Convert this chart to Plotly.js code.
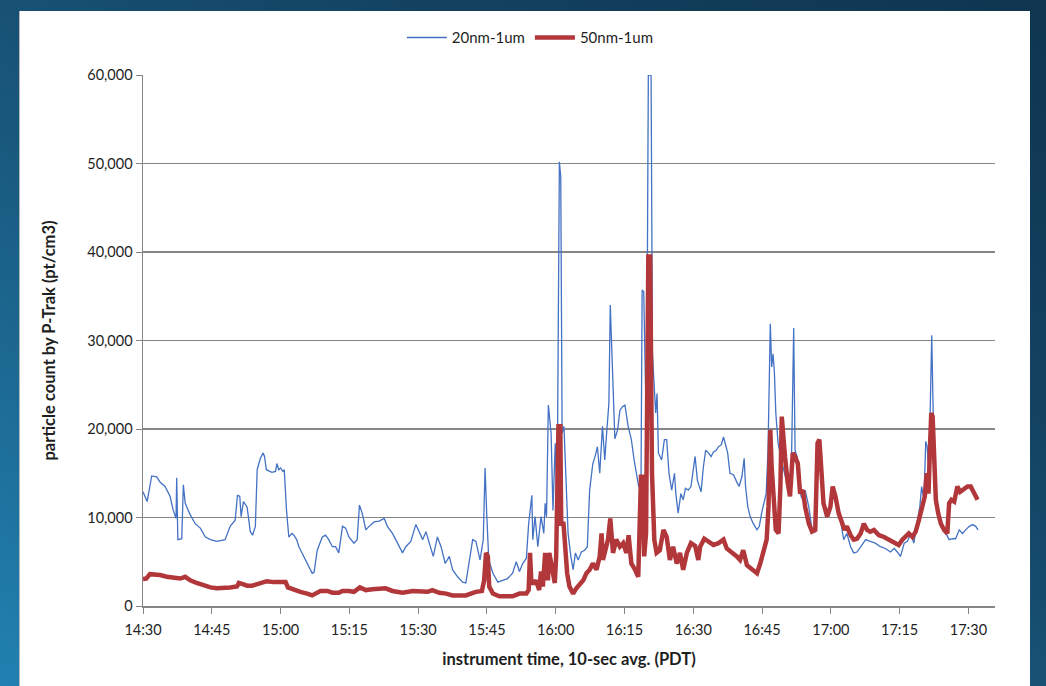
<!DOCTYPE html>
<html><head><meta charset="utf-8">
<script src="https://cdn.plot.ly/plotly-3.0.1.min.js"></script>
<style>
html,body{margin:0;padding:0;width:1046px;height:686px;overflow:hidden;
background:linear-gradient(to top right,#2181b1 0%,#19597e 40%,#134260 70%,#0f3550 100%);}
#panel{position:absolute;left:19px;top:11px;width:1010px;height:690px;background:#fff;border-left:1px solid #b8b8b8;}
#chart{position:absolute;left:0;top:0;width:1046px;height:686px;}
</style></head><body><div id="panel"></div><div id="chart"></div>
<script>
// elapsed minutes after 14:30 (PDT) and particle counts (pt/cm3)
const t20 = [0.0,0.9,1.9,3.0,3.7,4.8,5.9,6.6,7.2,7.35,7.6,8.46,8.8,9.2,10.3,11.4,12.5,13.6,14.7,16.1,17.9,19.0,20.1,20.6,21.1,21.4,21.9,22.7,23.4,23.9,24.5,24.9,25.6,26.2,26.5,26.9,28.1,28.9,29.2,29.6,30.0,30.5,30.8,31.3,31.8,32.5,32.9,33.5,34.0,34.7,35.4,36.2,36.9,37.3,38.0,39.1,39.8,40.5,41.3,42.0,42.7,43.5,44.2,44.9,46.0,46.7,47.2,47.8,48.6,49.3,50.4,51.5,52.6,53.3,54.4,55.5,56.6,57.3,58.4,59.5,60.2,61.0,61.7,62.4,63.3,64.2,65.0,65.9,66.8,67.5,68.6,69.7,70.4,71.2,71.9,72.6,73.5,74.2,74.6,74.95,75.4,76.3,77.4,78.4,79.5,80.6,81.4,82.1,82.8,83.6,84.1,84.8,85.0,85.5,86.1,86.8,87.4,87.7,88.0,88.4,89.0,89.4,89.9,90.3,90.8,91.1,91.4,91.8,92.2,92.7,93.3,93.8,94.3,94.9,95.6,96.3,96.9,97.4,98.1,98.6,99.1,99.6,100.2,100.7,101.1,101.4,101.6,101.9,102.3,102.9,103.5,104.0,104.5,105.1,105.8,106.5,107.1,107.6,108.1,108.6,108.85,109.2,109.5,109.8,110.2,110.8,111.1,111.5,111.8,112.1,112.4,113.1,113.7,114.2,114.7,115.3,115.9,116.2,116.7,117.3,117.8,118.3,118.9,119.5,120.4,120.9,121.7,122.2,122.7,123.3,123.9,124.4,125.0,125.5,126.1,126.6,126.9,127.5,128.0,128.8,129.5,130.0,130.6,131.1,131.4,131.9,132.4,133.1,133.9,134.4,134.9,135.5,135.9,136.3,136.6,136.8,137.1,137.4,137.7,138.0,138.5,139.2,140.1,140.8,141.4,141.9,142.2,142.6,143.1,143.5,143.9,144.4,145.2,145.9,146.6,147.1,147.5,148.0,148.4,149.5,150.6,151.4,152.1,152.8,153.5,154.3,155.0,155.7,156.5,157.6,158.6,159.7,160.8,161.9,163.0,163.8,164.5,165.2,166.0,166.7,167.4,168.1,168.9,169.4,169.8,170.3,170.7,171.0,171.4,171.8,172.0,172.3,172.6,173.1,173.6,174.3,175.1,175.8,176.5,177.2,178.0,178.7,179.4,180.2,180.9,181.6,182.1];
const v20 = [12900,11800,14700,14600,14000,13500,12400,10800,9900,14500,7500,7600,13700,11600,10300,9300,8800,7800,7500,7300,7500,9000,9700,12500,12400,10100,11800,11200,8400,8000,9000,15400,16700,17300,16900,15400,15100,15200,16100,15400,15600,15200,15400,10800,7800,8200,8000,7500,6700,6000,5200,4400,3700,3800,6300,7800,8000,7500,6700,6700,6000,9000,8800,7800,7100,7500,11400,10500,8600,9000,9500,9600,9900,9000,8200,7100,6000,6700,7300,9200,8400,7500,8400,7100,5600,7800,6700,4800,5600,4100,3300,2700,2600,5200,7500,7300,5200,7500,15600,10500,5200,3700,2700,2900,3100,3700,5000,3900,4800,5400,9300,12500,7500,10100,6700,10100,8200,11600,10100,22700,19500,10800,18400,11200,50200,48500,19500,20300,15000,8200,5600,4100,6000,5200,6100,6300,6700,13100,16100,16900,18000,15000,20300,16500,19500,21800,22900,34000,28200,18900,19900,22100,22500,22700,20300,18800,16500,15000,13500,13500,35700,35500,26300,18800,60000,60000,28500,24000,21800,24000,17300,16500,18800,18800,15000,13100,15000,12700,10500,12700,12000,13300,13100,13500,16900,14200,12900,15700,17600,17300,16900,17400,17600,18000,18200,19100,18400,17300,15000,14800,14000,13500,14600,16700,13500,11200,10100,9300,8600,9000,10500,12000,12700,17600,25200,31900,27000,28500,26300,21800,18400,16500,14600,13500,15700,31400,17600,16900,14600,12400,12000,13100,11200,8600,8400,18000,18500,14000,11600,10100,13500,11200,9700,7500,8200,6700,6000,6100,6700,7500,7300,7100,6700,6500,6100,6500,6100,5600,7100,7300,8200,7100,9700,11200,13500,12000,18600,18000,15000,23300,30600,22500,15700,11200,9700,9000,8200,7500,7600,7600,8600,8200,8600,9000,9200,9000,8600];

const t50 = [0.0,0.7,1.5,2.6,3.7,5.2,6.6,8.1,9.2,10.3,11.7,13.2,14.7,16.1,17.6,19.0,20.5,20.9,21.6,22.7,23.8,24.9,26.0,27.0,28.5,30.0,31.1,31.6,32.9,34.3,35.8,36.9,37.6,38.7,40.2,41.3,42.7,43.5,44.9,46.0,47.3,48.6,50.0,51.5,52.9,54.4,56.6,58.8,61.0,62.1,63.1,64.6,66.1,67.5,69.0,70.4,71.5,72.6,73.9,74.4,74.8,75.2,75.5,76.3,77.7,79.2,80.6,82.1,83.6,84.1,84.4,84.7,85.3,85.7,86.4,86.8,87.2,87.7,88.3,88.6,89.2,89.8,90.1,90.6,91.0,91.2,91.7,92.1,92.5,93.0,93.8,94.5,95.2,96.0,96.7,97.4,98.1,98.9,99.6,100.0,100.3,100.8,101.4,101.9,102.5,103.2,104.0,104.7,105.4,105.9,106.5,107.3,108.0,108.6,108.9,109.3,109.7,110.2,110.6,111.0,111.5,112.0,112.7,113.5,114.2,114.9,115.6,116.4,117.1,117.8,118.6,119.5,120.4,121.1,121.5,122.4,123.3,124.4,125.5,126.6,127.3,128.4,129.5,130.2,130.9,131.7,132.8,133.9,134.6,135.3,136.0,136.4,136.8,137.1,137.5,138.0,138.6,139.0,139.3,139.7,140.0,140.6,141.1,141.7,142.2,142.8,143.3,143.9,144.4,145.2,145.9,146.6,147.1,147.5,147.9,148.4,149.2,149.9,150.4,151.0,151.7,152.5,153.0,153.5,154.3,155.0,155.7,156.5,157.2,157.9,158.6,159.4,160.5,161.6,162.7,163.7,164.8,165.6,166.3,167.0,167.8,168.5,169.2,169.9,170.5,170.9,171.3,171.6,171.9,172.2,172.5,172.9,173.4,174.0,174.7,175.4,175.8,176.3,176.9,177.6,178.2,178.9,179.8,180.5,181.3,182.0];
const v50 = [3050,3100,3600,3600,3500,3300,3200,3100,3300,2900,2600,2300,2100,2000,2000,2100,2200,2600,2500,2300,2300,2500,2700,2800,2700,2700,2700,2100,1800,1600,1400,1200,1400,1700,1700,1500,1500,1700,1700,1600,2100,1800,1900,1900,2000,1700,1500,1700,1700,1600,1800,1500,1400,1200,1200,1200,1400,1600,1700,2900,6000,5600,2200,1400,1100,1100,1100,1400,1400,1800,6000,2600,2600,2900,1800,3900,2200,6000,2900,6000,4100,2600,5600,20300,20300,9300,9300,6700,3700,2200,1400,2000,2400,2900,3700,4100,4800,4100,5600,8200,5200,6300,7500,9900,6000,7500,6700,7100,6000,8000,4800,4100,3300,14600,14600,5600,8200,39500,39500,15000,7500,6000,6300,8600,7800,5200,6700,4800,6000,4100,6000,7100,6800,5200,6700,7600,7300,6900,7100,7500,6500,6100,5600,5200,6300,4600,4100,3700,4800,6000,7500,11200,19900,15700,12000,8600,8200,13500,21400,19500,16900,13900,12400,17300,16900,16100,12700,13100,11200,9300,8400,8600,18400,18800,14600,11600,10100,11200,13500,12400,10500,9500,8600,9000,8000,7500,7600,8200,9300,8600,8400,8600,8000,7800,7500,7100,6900,7500,7800,8200,7800,8400,9700,11200,12400,15000,12700,17600,21800,21400,15700,12000,10500,9300,8600,8200,11600,12000,11800,13500,12900,13100,13500,13500,12700,12000];

const seriesNames = ['20nm-1um', '50nm-1um'];
const xTitle = 'instrument time, 10-sec avg. (PDT)';
const yTitle = 'particle count by P-Trak (pt/cm3)';

const BASE = Date.UTC(2013, 6, 1, 14, 30, 0);
function toTime(m) {
  return new Date(BASE + Math.round(m * 60000)).toISOString().replace('T', ' ').slice(0, 19);
}

const font = 'Lato, "Open Sans", sans-serif';
const gray = '#868686';
const ink = '#1e1e1e';

const traces = [
  {x: t20.map(toTime), y: v20, name: seriesNames[0], type: 'scatter', mode: 'lines',
   line: {color: '#4472C4', width: 1.3}},
  {x: t50.map(toTime), y: v50, name: seriesNames[1], type: 'scatter', mode: 'lines',
   line: {color: '#B2373A', width: 4.5}}
];

const layout = {
  width: 1046, height: 686,
  paper_bgcolor: 'rgba(0,0,0,0)', plot_bgcolor: 'rgba(0,0,0,0)',
  margin: {l: 143, r: 51, t: 75, b: 80},
  font: {family: font, size: 14, color: ink},
  showlegend: true,
  legend: {orientation: 'h', xref: 'container', yref: 'container', x: 0.507, xanchor: 'center',
           y: 0.945, yanchor: 'middle', font: {size: 15, color: ink}, bgcolor: 'rgba(0,0,0,0)',
           itemwidth: 40},
  xaxis: {
    type: 'date', range: [toTime(0), toTime(185.8)],
    tick0: toTime(0), dtick: 900000, tickformat: '%H:%M',
    ticks: 'outside', ticklen: 6, tickcolor: gray, tickwidth: 1, ticklabelstandoff: 4,
    showline: true, linecolor: gray, linewidth: 1.5, showgrid: false, zeroline: false,
    tickfont: {size: 14.5, color: ink},
    title: {text: '<b>' + xTitle + '</b>', font: {size: 16.5, color: ink}, standoff: 16}
  },
  yaxis: {
    range: [0, 60000], dtick: 10000, tickformat: ',',
    ticks: 'outside', ticklen: 6, tickcolor: gray, tickwidth: 1,
    showline: true, linecolor: gray, linewidth: 1.5,
    showgrid: true, gridcolor: gray, gridwidth: 1.3, zeroline: false,
    tickfont: {size: 14.5, color: ink},
    title: {text: '<b>' + yTitle + '</b>', font: {size: 16.5, color: ink}, standoff: 27}
  }
};

Plotly.newPlot('chart', traces, layout, {displayModeBar: false, staticPlot: true});
</script></body></html>
